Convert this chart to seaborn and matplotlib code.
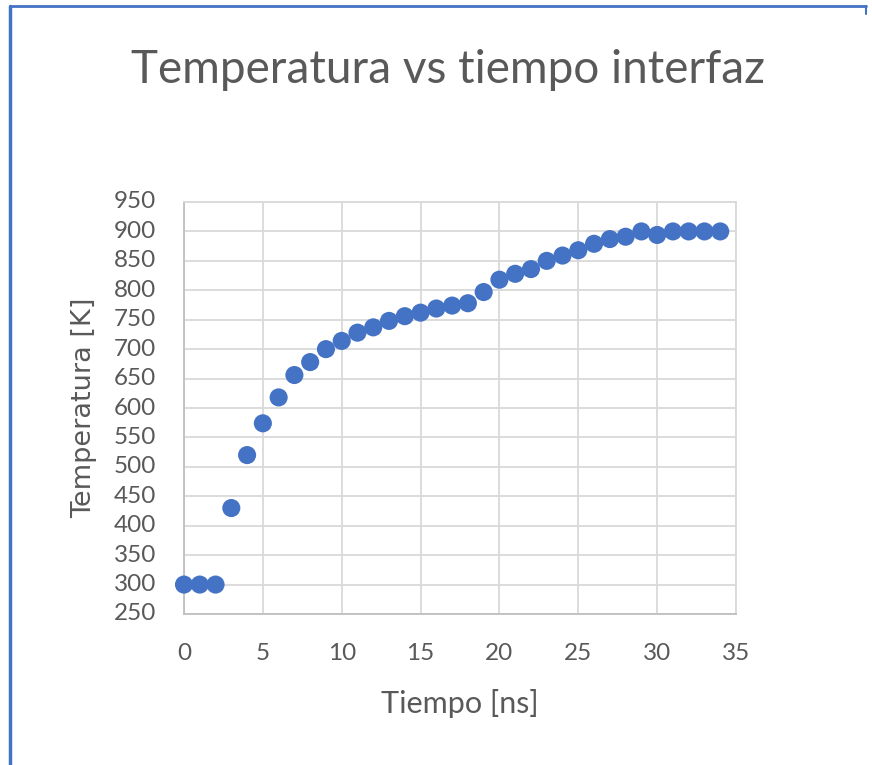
import matplotlib
matplotlib.use("Agg")
import matplotlib.pyplot as plt
import seaborn as sns
import pandas as pd
from matplotlib.lines import Line2D

tiempo_ns = list(range(0, 35))
temperatura_k = [300, 300, 300, 430, 520, 574, 618, 656, 678, 700,
                 714, 728, 737, 748, 756, 762, 769, 774, 778, 797,
                 818, 828, 836, 850, 859, 868, 879, 887, 891, 900,
                 894, 900, 900, 900, 900]
x_ticks = [0, 5, 10, 15, 20, 25, 30, 35]
y_ticks = list(range(250, 951, 50))
title = "Temperatura vs tiempo interfaz"
x_label = "Tiempo [ns]"
y_label = "Temperatura [K]"

df = pd.DataFrame({"t": tiempo_ns, "T": temperatura_k})

sns.set_theme(style="white")
plt.rcParams["font.family"] = ["Lato", "DejaVu Sans"]

fig = plt.figure(figsize=(8.72, 7.65), dpi=100)
ax = fig.add_axes([184 / 872, 1 - 614 / 765, (736 - 184) / 872, (614 - 202) / 765])

sns.scatterplot(data=df, x="t", y="T", ax=ax, color="#4472C4", s=170,
                edgecolor="none", linewidth=0, zorder=3, clip_on=False)

ax.set_xlim(0, 35)
ax.set_ylim(250, 950)
ax.set_xticks(x_ticks)
ax.set_yticks(y_ticks)
ax.grid(True, color="#D9D9D9", linewidth=1.3)
for s in ax.spines.values():
    s.set_color("#D9D9D9")
    s.set_linewidth(1.3)
ax.spines["left"].set_color("#BFBFBF")
ax.spines["bottom"].set_color("#BFBFBF")

txt = "#595959"
ax.tick_params(axis="both", length=0, labelsize=17.5, labelcolor=txt)
ax.tick_params(axis="y", pad=20)
ax.tick_params(axis="x", pad=21)
for lab in ax.get_yticklabels():
    lab.set_verticalalignment("center")

ax.set_xlabel(x_label, fontsize=22, color=txt, labelpad=18)
ax.set_ylabel(y_label, fontsize=19.5, color=txt, labelpad=12, family=["DejaVu Sans"])

fig.text(448 / 872, 1 - 70 / 765, title, ha="center", va="center",
         fontsize=33, color=txt)

# chart frame
fig.add_artist(Line2D([10 / 872, 10 / 872], [0, 1 - 6 / 765], transform=fig.transFigure,
                      color="#4472C4", linewidth=2.5))
fig.add_artist(Line2D([10 / 872, 866 / 872], [1 - 6 / 765, 1 - 6 / 765], transform=fig.transFigure,
                      color="#4472C4", linewidth=2.0))
fig.add_artist(Line2D([866 / 872, 866 / 872], [1 - 6 / 765, 1 - 14 / 765], transform=fig.transFigure,
                      color="#4472C4", linewidth=1.5))

fig.savefig("out.png", dpi=100, facecolor="white")
